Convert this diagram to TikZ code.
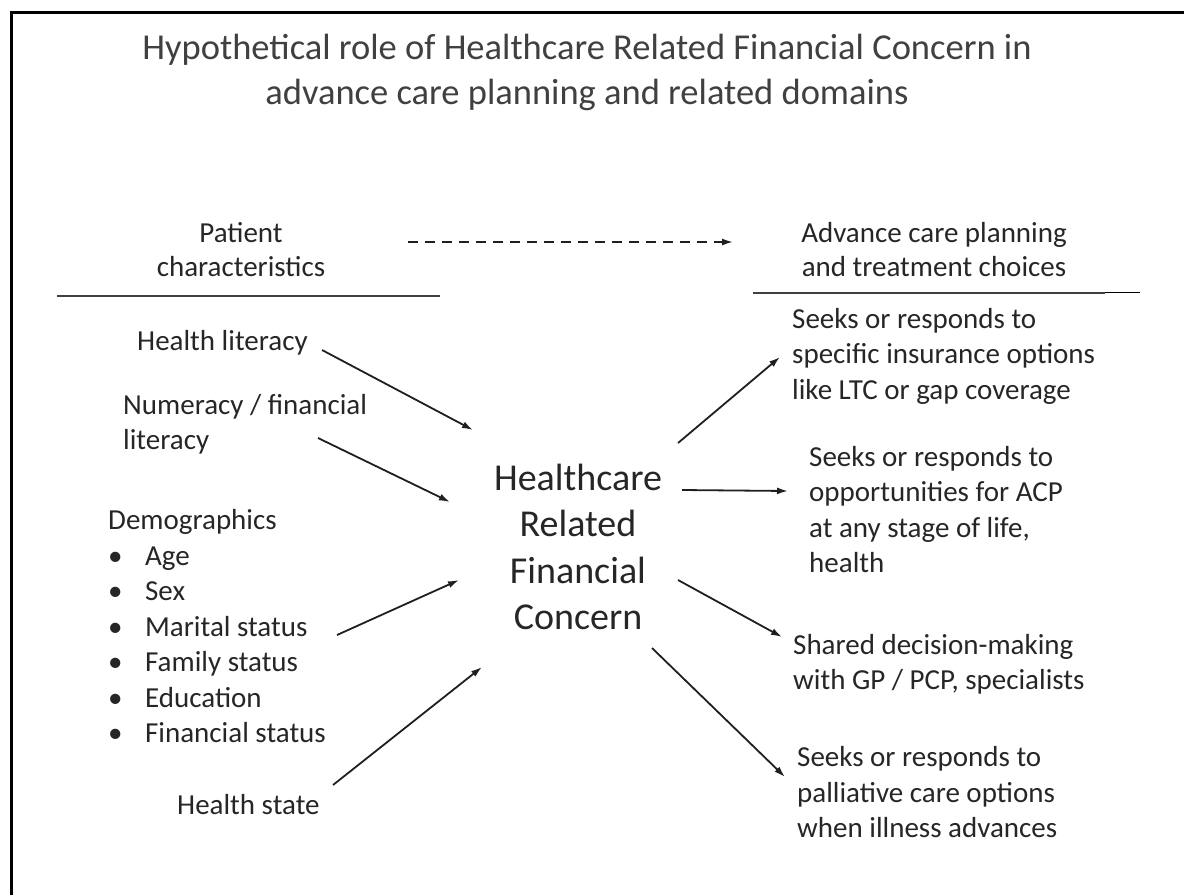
\documentclass[tikz,border=0pt]{standalone}
\usepackage{fontspec}
\setmainfont{Carlito}
\usetikzlibrary{arrows.meta,positioning}
\newcommand{\blt}{\makebox[37pt][l]{\textbullet}}

\begin{document}
\begin{tikzpicture}[x=1pt,y=-1pt]
\tikzstyle{title}=[align=center, inner sep=0pt, text=black!75, font=\fontsize{36.5}{45}\selectfont]
\tikzstyle{head}=[align=center, inner sep=0pt, text=black!85, font=\fontsize{29}{34}\selectfont]
\tikzstyle{item}=[align=left, anchor=west, inner sep=0pt, text=black!85, font=\fontsize{29}{35.5}\selectfont]
\tikzstyle{core}=[align=center, inner sep=0pt, text=black!85, font=\fontsize{38}{46.5}\selectfont]
\tikzstyle{connect}=[-{Latex[length=11pt,width=7pt]}, line width=1.8pt, draw=black!88]
\tikzstyle{rule}=[line width=2.2pt, draw=black!75]
\useasboundingbox (0,0) rectangle (1184,895);
\draw[line width=2.5pt] (11.5,895) -- (11.5,12.5) -- (1184,12.5);
  \node[title] (ttl) at (587,72) {Hypothetical role of Healthcare Related Financial Concern in\\advance care planning and related domains};
  \node[head] (pc) at (241,250) {Patient\\characteristics};
  \node[head] (acp) at (934,250) {Advance care planning\\and treatment choices};
\draw[rule] (57,296) -- (440,296);
\draw[rule] (753,293) -- (1105,293);
\draw[line width=1.4pt] (1105,292.5) -- (1140,292.5);
\draw[connect, dash pattern=on 10pt off 7pt, shorten <=83pt, shorten >=68pt] ([yshift=8pt]pc.east) -- ([yshift=8pt]acp.west);
  \node[core] (hrfc) at (578,547) {Healthcare\\Related\\Financial\\Concern};
  \node[item] (hl) at (137,343) {Health literacy};
  \node[item] (num) at (123,424.5) {Numeracy / financial\\literacy};
  \node[item] (demo) at (108,626.5) {Demographics\\\blt Age\\\blt Sex\\\blt Marital status\\\blt Family status\\\blt Education\\\blt Financial status};
  \node[item] (hs) at (177,805) {Health state};
  \node[item] (ins) at (792,356) {Seeks or responds to\\specific insurance options\\like LTC or gap coverage};
  \node[item] (opp) at (809,509.5) {Seeks or responds to\\opportunities for ACP\\at any stage of life,\\health};
  \node[item] (sdm) at (793,664.5) {Shared decision-making\\with GP / PCP, specialists};
  \node[item] (pal) at (797,792.5) {Seeks or responds to\\palliative care options\\when illness advances};
% free ends of the arrows round the central concern
\coordinate (hlS) at (322,350);  \coordinate (hlE) at (473,430);
\coordinate (numS) at (318,438); \coordinate (numE) at (450,502);
\coordinate (demS) at (337,635); \coordinate (demE) at (459,580);
\coordinate (hsS) at (333,785);  \coordinate (hsE) at (482,667);
\coordinate (insS) at (678,443); \coordinate (insE) at (780,357);
\coordinate (oppS) at (682,490); \coordinate (oppE) at (788,491);
\coordinate (sdmS) at (678,580); \coordinate (sdmE) at (782,637);
\coordinate (palS) at (652,648); \coordinate (palE) at (785,777);
\path (hlS) edge[connect] (hlE)
      (numS) edge[connect] (numE)
      (demS) edge[connect] (demE)
      (hsS) edge[connect] (hsE)
      (insS) edge[connect] (insE)
      (oppS) edge[connect] (oppE)
      (sdmS) edge[connect] (sdmE)
      (palS) edge[connect] (palE)
      ;
\end{tikzpicture}
\end{document}
